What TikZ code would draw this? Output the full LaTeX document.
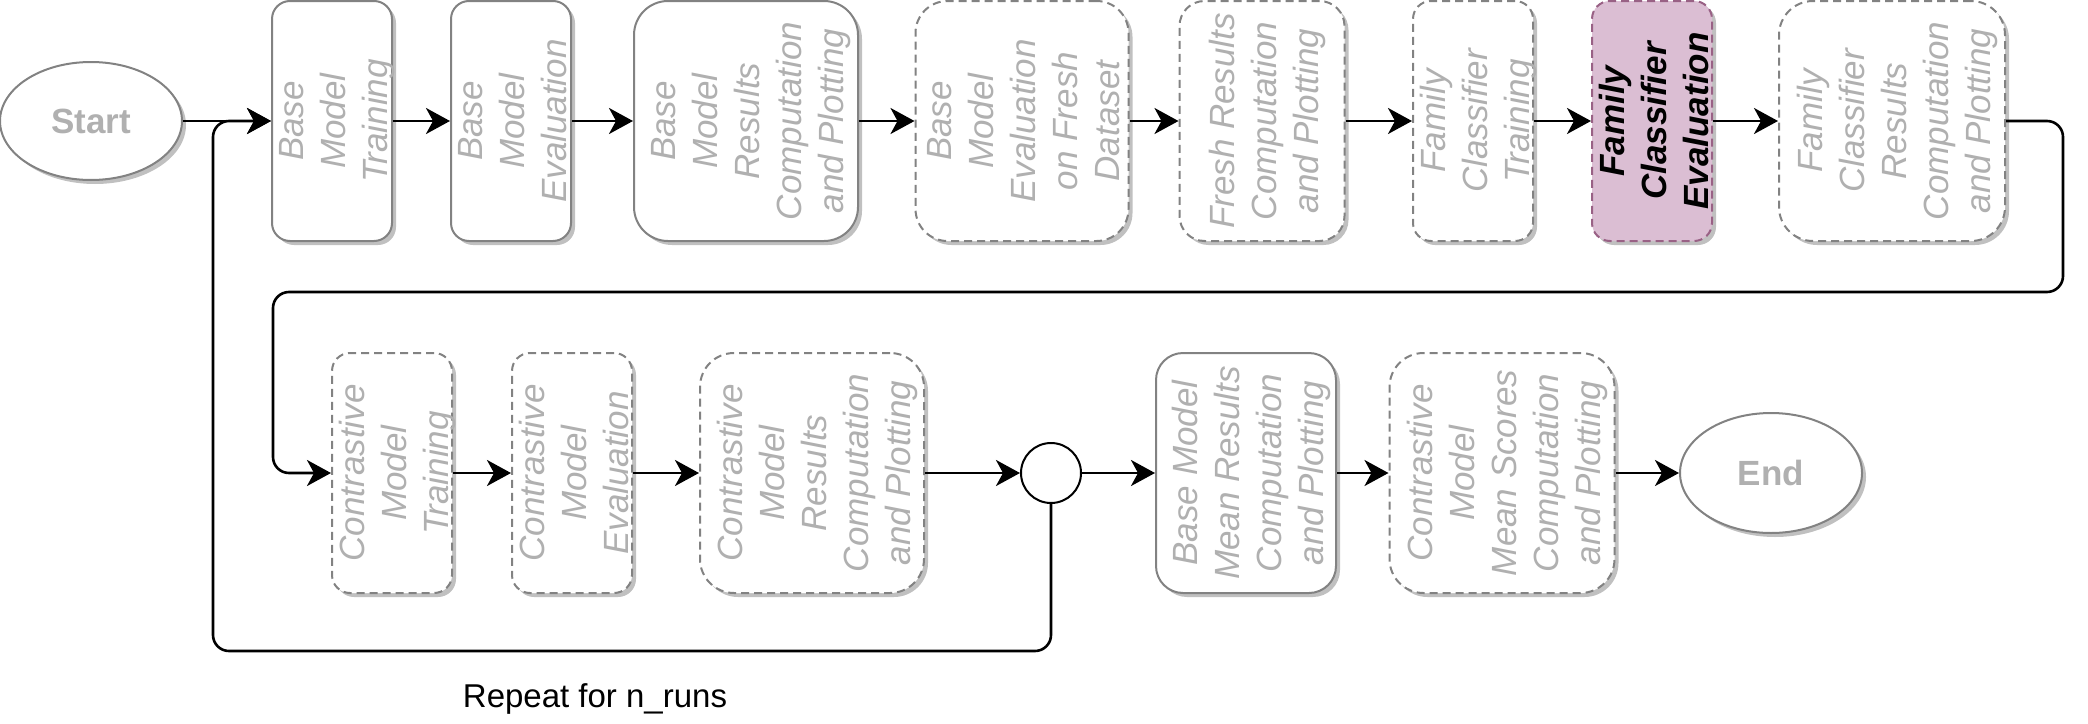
\documentclass[tikz,border=0pt]{standalone}
\usepackage{fontspec}
\setmainfont{Liberation Sans}
\usetikzlibrary{arrows.meta,shapes.geometric,shadows,positioning}
\definecolor{boxline}{HTML}{828282}
\definecolor{boxtext}{HTML}{B0B0B0}
\definecolor{boxshadow}{HTML}{C0C0C0}
\definecolor{evalfill}{HTML}{DBBED3}
\definecolor{evalline}{HTML}{996185}
\newcommand{\rowa}{121}
\newcommand{\rowb}{473}
\newcommand{\boxh}{240pt}
\newcommand{\txtsize}{\fontsize{35}{42}\selectfont}
\tikzset{
  stepbox/.style={draw=boxline, line width=2pt, fill=white, rounded corners=18pt,
    minimum height=\boxh, inner sep=0pt,
    drop shadow={shadow xshift=4pt, shadow yshift=-4pt, fill=boxshadow, opacity=1}},
  dashbox/.style={stepbox, dash pattern=on 8pt off 5pt},
  steptext/.style={rotate=90, align=center, inner sep=0pt, text depth=0pt,
    text=boxtext, font=\txtsize\itshape},
  endpoint/.style={ellipse, draw=boxline, line width=2pt, fill=white,
    minimum width=182pt, minimum height=118pt, text=boxtext, font=\txtsize\bfseries,
    drop shadow={shadow xshift=4pt, shadow yshift=-4pt, fill=boxshadow, opacity=1}},
  flow/.style={draw=black, line width=2.6pt, rounded corners=16pt,
    -{Stealth[length=24pt,width=26pt,inset=7pt]}}
}

\begin{document}
\begin{tikzpicture}[x=1pt,y=-1pt]
\useasboundingbox (0,0) rectangle (2088,723);
%row 1
\node[endpoint] (start) at (91,\rowa) {Start};
\node[stepbox, minimum width=120pt] (bmt) at (332,\rowa) {};
\node[steptext] (bmt-t) at ([xshift=1.5pt]bmt.center) {Base\\Model\\Training};
\node[stepbox, minimum width=120pt] (bme) at (511,\rowa) {};
\node[steptext] (bme-t) at ([xshift=1.5pt]bme.center) {Base\\Model\\Evaluation};
\node[stepbox, minimum width=224pt, rounded corners=34pt] (bmr) at (746,\rowa) {};
\node[steptext] (bmr-t) at ([xshift=1.5pt]bmr.center) {Base\\Model\\Results\\Computation\\and Plotting};
\node[dashbox, minimum width=213pt, rounded corners=32pt] (bmf) at (1022,\rowa) {};
\node[steptext] (bmf-t) at ([xshift=1.5pt]bmf.center) {Base\\Model\\Evaluation\\on Fresh\\Dataset};
\node[dashbox, minimum width=165pt, rounded corners=25pt] (frc) at (1262,\rowa) {};
\node[steptext] (frc-t) at ([xshift=1.5pt]frc.center) {Fresh Results\\Computation\\and Plotting};
\node[dashbox, minimum width=120pt] (fct) at (1473,\rowa) {};
\node[steptext] (fct-t) at ([xshift=1.5pt]fct.center) {Family\\Classifier\\Training};
\node[dashbox, minimum width=120pt, draw=evalline, fill=evalfill] (fce) at (1652,\rowa) {};
\node[steptext, text=black, font=\txtsize\bfseries\itshape] (fce-t) at ([xshift=1.5pt]fce.center) {Family\\Classifier\\Evaluation};
\node[dashbox, minimum width=226pt, rounded corners=34pt] (fcr) at (1892,\rowa) {};
\node[steptext] (fcr-t) at ([xshift=1.5pt]fcr.center) {Family\\Classifier\\Results\\Computation\\and Plotting};
%row 2
\node[dashbox, minimum width=120pt] (cmt) at (392,\rowb) {};
\node[steptext] (cmt-t) at ([xshift=1.5pt]cmt.center) {Contrastive\\Model\\Training};
\node[dashbox, minimum width=120pt] (cme) at (572,\rowb) {};
\node[steptext] (cme-t) at ([xshift=1.5pt]cme.center) {Contrastive\\Model\\Evaluation};
\node[dashbox, minimum width=224pt, rounded corners=34pt] (cmr) at (812,\rowb) {};
\node[steptext] (cmr-t) at ([xshift=1.5pt]cmr.center) {Contrastive\\Model\\Results\\Computation\\and Plotting};
\node[circle, draw=black, line width=2pt, fill=white, minimum size=60pt, inner sep=0pt] (merge) at (1051,\rowb) {};
\node[stepbox, minimum width=180pt, rounded corners=27pt] (bmm) at (1246,\rowb) {};
\node[steptext] (bmm-t) at ([xshift=1.5pt]bmm.center) {Base Model\\Mean Results\\Computation\\and Plotting};
\node[dashbox, minimum width=225pt, rounded corners=34pt] (cmm) at (1502,\rowb) {};
\node[steptext] (cmm-t) at ([xshift=1.5pt]cmm.center) {Contrastive\\Model\\Mean Scores\\Computation\\and Plotting};
\node[endpoint, minimum height=120pt] (end) at (1771,\rowb) {End};
\node[font=\fontsize{33}{40}\selectfont] (repeat) at (595,699) {Repeat for n\_runs};
%arrows
\coordinate (wrapr) at (2063,292);
\coordinate (wrapl) at (273,292);
\coordinate (loopb) at (213,651);
\draw[flow] (start.east) -- (bmt.west);
\draw[flow] (bmt.east) -- (bme.west);
\draw[flow] (bme.east) -- (bmr.west);
\draw[flow] (bmr.east) -- (bmf.west);
\draw[flow] (bmf.east) -- (frc.west);
\draw[flow] (frc.east) -- (fct.west);
\draw[flow] (fct.east) -- (fce.west);
\draw[flow] (fce.east) -- (fcr.west);
\draw[flow] (fcr.east) -| (wrapr) -- (wrapl) |- (cmt.west);
\draw[flow] (cmt.east) -- (cme.west);
\draw[flow] (cme.east) -- (cmr.west);
\draw[flow] (cmr.east) -- (merge.west);
\draw[flow] (merge.east) -- (bmm.west);
\draw[flow] (bmm.east) -- (cmm.west);
\draw[flow] (cmm.east) -- (end.west);
\draw[flow] (merge.south) |- (loopb) |- (bmt.west);
\end{tikzpicture}
\end{document}
